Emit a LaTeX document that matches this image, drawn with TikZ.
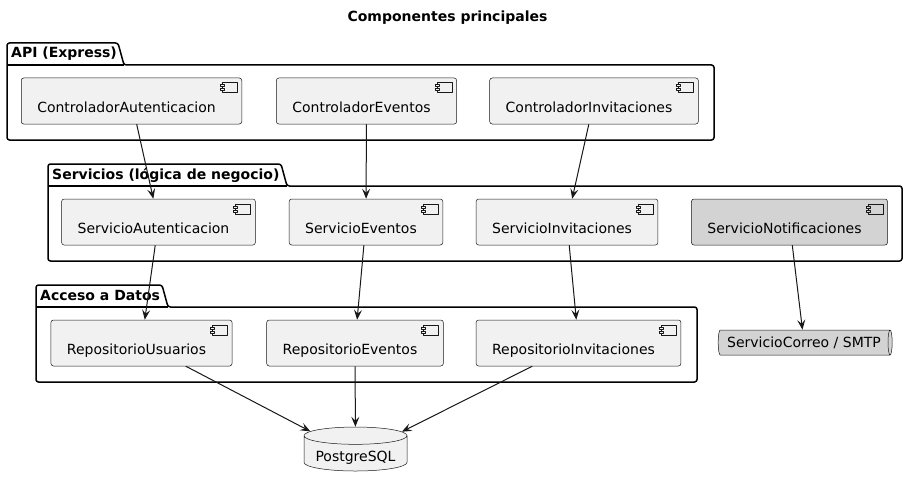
\documentclass[tikz,border=0pt]{standalone}
\usepackage{fontspec}
\setmainfont{DejaVu Sans}
\usetikzlibrary{arrows.meta,shapes.geometric}
\definecolor{compbg}{HTML}{F1F1F1}
\definecolor{notifbg}{HTML}{D3D3D3}
\definecolor{edge}{HTML}{181818}
% package frame: name, left, tab top, tab right, right, bottom, label
\newcommand{\pkg}[7]{%
  \draw[pkgline] (#2,#3+22) -- (#2,#3) -- (#4,#3) -- (#4+6,#3+22) -- (#5,#3+22) -- (#5,#6) -- (#2,#6) -- cycle;
  \draw[pkgline] (#2,#3+22) -- (#4+6,#3+22);
  \node[pkglabel] (#1) at (#2+4,#3+15) {#7};}
% component icon in the upper right corner
\newcommand{\cicon}[2]{%
  \draw[iconline,fill=#2] ([xshift=-20pt,yshift=-5pt]#1.north east) rectangle +(15,10);
  \draw[iconline,fill=#2] ([xshift=-22pt,yshift=-7pt]#1.north east) rectangle +(4,2);
  \draw[iconline,fill=#2] ([xshift=-22pt,yshift=-11pt]#1.north east) rectangle +(4,2);}
\begin{document}
\begin{tikzpicture}[x=1pt,y=-1pt,font=\fontsize{14pt}{17pt}\selectfont,line join=round,
  >={Stealth[length=10pt,width=8pt,inset=4pt]},
  comp/.style={draw=edge,line width=0.5pt,fill=compbg,rounded corners=2.5pt,minimum height=46pt,
    inner xsep=16pt,text height=24pt,text depth=2pt,execute at end node={\hspace*{10pt}}},
  pkgline/.style={draw=black,line width=1.5pt,rounded corners=2.5pt},
  pkglabel/.style={anchor=base west,inner sep=0pt,font=\fontsize{14pt}{17pt}\selectfont\bfseries},
  iconline/.style={draw=edge,line width=0.5pt},
  dep/.style={->,draw=edge,line width=1pt}]
\useasboundingbox (0,0) rectangle (908,487);
\fill[white] (0,0) rectangle (908,487);
\node[font=\fontsize{14pt}{17pt}\selectfont\bfseries] (title) at (447.5,18) {Componentes principales};
% packages
\pkg{api}{7}{43}{118}{714}{140}{API (Express)}
\pkg{serv}{48}{164}{281}{902}{261}{Servicios (lógica de negocio)}
\pkg{datos}{36}{285}{162}{697}{382}{Acceso a Datos}
% components
\node[comp] (ca) at (131.5,101) {ControladorAutenticacion};
\node[comp] (ce) at (366.5,101) {ControladorEventos};
\node[comp] (ci) at (594,101) {ControladorInvitaciones};
\node[comp] (sa) at (158.5,222) {ServicioAutenticacion};
\node[comp] (se) at (366,222) {ServicioEventos};
\node[comp] (si) at (567,222) {ServicioInvitaciones};
\node[comp,fill=notifbg] (sn) at (789.5,222) {ServicioNotificaciones};
\node[comp] (ru) at (141.5,343) {RepositorioUsuarios};
\node[comp] (re) at (355,343) {RepositorioEventos};
\node[comp] (ri) at (578.5,343) {RepositorioInvitaciones};
\foreach \n/\c in {ca/compbg,ce/compbg,ci/compbg,sa/compbg,se/compbg,si/compbg,sn/notifbg,ru/compbg,re/compbg,ri/compbg}
  \cicon{\n}{\c};
% queue and database
\node[cylinder,draw=edge,line width=0.5pt,fill=notifbg,aspect=0.35,minimum width=25pt,minimum height=174pt,inner sep=0pt] (correo) at (804,342.5) {ServicioCorreo / SMTP};
\node[cylinder,shape border rotate=90,draw=edge,line width=0.5pt,fill=compbg,aspect=0.2,minimum width=103pt,minimum height=44pt] (pg) at (355.5,455) {\raisebox{-3pt}[\height][\depth]{PostgreSQL}};
% dependencies
\draw[dep] (ca) -- (sa);
\draw[dep] (ce) -- (se);
\draw[dep] (ci) -- (si);
\draw[dep] (sa) -- (ru);
\draw[dep] (se) -- (re);
\draw[dep] (si) -- (ri);
\draw[dep] (sn) -- (correo);
\draw[dep] (ru) -- (pg);
\draw[dep] (re) -- (pg);
\draw[dep] (ri) -- (pg);
\end{tikzpicture}
\end{document}
